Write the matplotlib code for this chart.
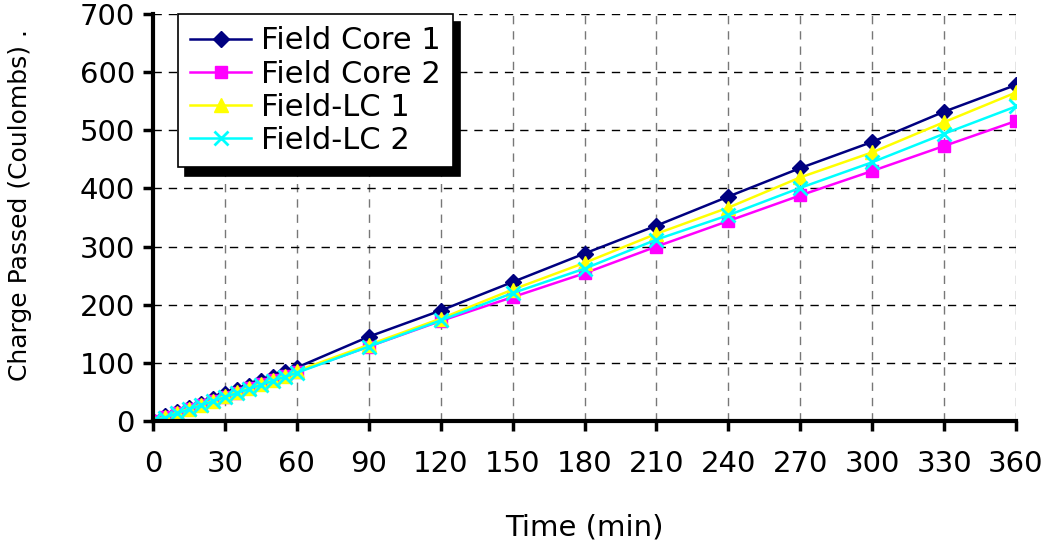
import numpy as np
import matplotlib.pyplot as plt

# time points (min)
time = [0, 5, 10, 15, 20, 25, 30, 35, 40, 45, 50, 55, 60,
        90, 120, 150, 180, 210, 240, 270, 300, 330, 360]

# charge passed (Coulombs)
field_core_1 = [0, 8, 15, 23, 30, 38, 46, 53, 61, 69, 76, 84, 92,
                145, 190, 239, 288, 336, 386, 435, 480, 532, 578]
field_core_2 = [0, 7, 14, 21, 28, 35, 42, 49, 56, 63, 70, 77, 84,
                128, 172, 213, 254, 300, 344, 388, 430, 473, 516]
field_lc_1 = [0, 7, 14, 21, 28, 35, 43, 50, 57, 64, 71, 78, 86,
              131, 176, 226, 272, 322, 367, 419, 462, 514, 565]
field_lc_2 = [0, 6, 13, 20, 27, 34, 41, 48, 55, 62, 69, 76, 83,
              128, 173, 220, 262, 312, 354, 401, 445, 494, 541]

fig = plt.figure(figsize=(10.47, 5.44), dpi=100)
ax = fig.add_axes([153/1047, 1-421/544, (1016-153)/1047, (421-14)/544])

ax.plot(time, field_core_1, color='#000080', marker='D', markersize=8, lw=1.8, label='Field Core 1')
ax.plot(time, field_core_2, color='#ff00ff', marker='s', markersize=8, lw=1.8, label='Field Core 2')
ax.plot(time, field_lc_1, color='#ffff00', marker='^', markersize=10, lw=1.8, label='Field-LC 1')
ax.plot(time, field_lc_2, color='#00ffff', marker='x', markersize=10, mew=2, lw=1.8, label='Field-LC 2')

ax.set_xlim(0, 360)
ax.set_ylim(0, 700)
ax.set_xticks(np.arange(0, 361, 30))
ax.set_yticks(np.arange(0, 701, 100))
ax.tick_params(labelsize=21, width=2.5, length=7, direction='out')
ax.tick_params(axis='x', pad=14)
ax.tick_params(axis='y', pad=6)

ax.grid(True, color='black', linestyle=(0, (6, 5)), lw=1.0)
for gl in ax.get_xgridlines():
    gl.set_color('#777777')
ax.spines['top'].set_visible(False)
ax.spines['right'].set_visible(False)
ax.spines['left'].set_linewidth(3)
ax.spines['bottom'].set_linewidth(3)
for s in ax.spines.values():
    s.set_zorder(5)

ax.set_xlabel('Time (min)', fontsize=21)
ax.xaxis.set_label_coords(0.5, -0.228)
ax.set_ylabel('Charge Passed (Coulombs) .', fontsize=18)
ax.yaxis.set_label_coords(-0.14, 0.531)

leg = ax.legend(loc='upper left', bbox_to_anchor=(25/863, 1.0), borderaxespad=0,
                fontsize=22, fancybox=False, framealpha=1, edgecolor='black',
                shadow={'color': 'black', 'alpha': 1, 'ox': 5, 'oy': -6},
                handlelength=2.0, borderpad=0.4, labelspacing=0.14, handletextpad=0.33)
leg.get_frame().set_linewidth(1.2)

fig.savefig('out.png', dpi=100)
